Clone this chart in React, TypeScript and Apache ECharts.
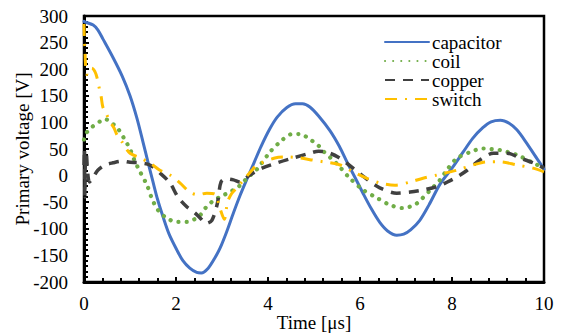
import React, { useEffect, useRef } from "react";
import * as echarts from "echarts";

const seriesNames = ["capacitor", "coil", "copper", "switch"];
const xTicks = [0, 2, 4, 6, 8, 10];
const yTicks = [-200, -150, -100, -50, 0, 50, 100, 150, 200, 250, 300];

const capacitorData: [number, number][] = [
  [0, 290], [0.05, 288], [0.2, 283], [0.3, 274], [0.41, 257], [0.63, 222], [0.83, 187],
  [1.0, 150], [1.15, 108], [1.28, 64], [1.4, 22], [1.5, -12], [1.6, -45], [1.72, -78],
  [1.85, -110], [2.02, -140], [2.15, -160], [2.3, -174], [2.45, -182], [2.55, -183],
  [2.7, -174], [2.85, -154], [2.96, -136], [3.1, -106], [3.25, -70], [3.39, -38],
  [3.55, -5], [3.7, 25], [3.85, 55], [4.04, 88], [4.2, 110], [4.41, 128], [4.6, 135],
  [4.75, 135], [4.91, 129], [5.1, 112], [5.35, 84], [5.55, 55], [5.72, 25], [5.9, -5],
  [6.07, -34], [6.25, -63], [6.43, -88], [6.6, -104], [6.8, -112], [6.95, -110],
  [7.1, -102], [7.3, -84], [7.5, -55], [7.74, -16], [8.0, 14], [8.24, 44], [8.45, 70],
  [8.67, 90], [8.85, 101], [9.05, 104], [9.25, 98], [9.41, 86], [9.6, 64], [9.8, 38],
  [9.91, 24], [10, 12],
];

const coilData: [number, number][] = [
  [0, 68], [0.05, 80], [0.17, 91], [0.35, 102], [0.46, 106], [0.6, 99], [0.74, 88],
  [0.89, 67], [1.0, 50], [1.1, 28], [1.22, 7], [1.37, -18], [1.48, -44], [1.61, -65],
  [1.8, -80], [2.02, -87], [2.24, -87], [2.4, -82], [2.52, -75], [2.65, -60], [2.8, -48],
  [3.0, -38], [3.17, -31], [3.4, -18], [3.54, -5], [3.76, 12], [4.04, 44], [4.26, 63],
  [4.52, 78], [4.7, 78], [4.91, 68], [5.09, 57], [5.2, 46], [5.5, 22], [5.78, -5],
  [6.07, -27], [6.37, -42], [6.65, -55], [6.93, -61], [7.1, -58], [7.24, -52],
  [7.52, -28], [7.74, -8], [7.9, 12], [8.1, 32], [8.39, 44], [8.67, 51], [8.85, 50],
  [9.04, 48], [9.41, 39], [9.76, 24], [10, 14],
];

const copperData: [number, number][] = [
  [0, 20], [0.01, 50], [0.02, -40], [0.03, 30], [0.05, 40], [0.08, 5], [0.12, -12],
  [0.2, -3], [0.3, 10], [0.46, 20], [0.63, 24], [0.83, 27], [1.0, 25], [1.22, 24],
  [1.43, 20], [1.65, 5], [1.87, -14], [2.04, -40], [2.24, -59], [2.41, -70], [2.55, -82],
  [2.65, -90], [2.78, -84], [2.9, -52], [2.98, -12], [3.1, -6], [3.25, -8], [3.39, -12],
  [3.6, 1], [3.87, 14], [4.2, 24], [4.54, 33], [4.91, 42], [5.1, 46], [5.28, 44],
  [5.52, 35], [5.85, 14], [6.17, -8], [6.43, -23], [6.8, -33], [7.09, -31], [7.37, -27],
  [7.67, -21], [7.9, -12], [8.1, -3], [8.33, 10], [8.6, 29], [8.9, 42], [9.2, 42],
  [9.48, 33], [9.76, 24], [10, 14],
];

const switchData: [number, number][] = [
  [0, 285], [0.01, 250], [0.02, 240], [0.03, 213], [0.06, 190], [0.1, 200], [0.17, 202],
  [0.24, 195], [0.28, 185], [0.33, 165], [0.37, 150], [0.41, 129], [0.48, 118],
  [0.54, 105], [0.65, 90], [0.72, 76], [0.83, 63], [0.89, 54], [1.0, 42], [1.22, 33],
  [1.43, 24], [1.65, 10], [1.87, 1], [2.09, -14], [2.3, -31], [2.48, -36], [2.67, -33],
  [2.85, -35], [2.95, -60], [3.05, -82], [3.12, -50], [3.2, -35], [3.3, -25],
  [3.43, -12], [3.65, 10], [3.76, 20], [4.15, 33], [4.41, 35], [4.7, 33], [4.98, 29],
  [5.2, 26], [5.57, 20], [5.85, 7], [6.15, -5], [6.43, -14], [6.76, -18], [7.09, -12],
  [7.37, -5], [7.67, 1], [8.1, 10], [8.46, 20], [8.76, 26], [9.04, 26], [9.41, 20],
  [9.76, 14], [10, 7],
];

const FONT = "Liberation Serif";

export default function App() {
  const ref = useRef<HTMLDivElement>(null);
  useEffect(() => {
    document.body.style.margin = "0";
    const chart = echarts.init(ref.current!, null, { renderer: "svg" });
    const lineSeries = (
      name: string,
      data: [number, number][],
      color: string,
      width: number,
      type: any,
      cap: any
    ) => ({
      name,
      type: "line",
      data,
      symbol: "none",
      showSymbol: false,
      smooth: 0.3,
      color,
      lineStyle: { color, width, type, cap, join: "round" },
    });
    chart.setOption({
      animation: false,
      textStyle: { fontFamily: FONT },
      grid: {
        left: 84,
        right: 17,
        top: 16,
        bottom: 54,
        containLabel: false,
        outerBoundsMode: "none",
        show: true,
        borderColor: "#000",
        borderWidth: 2.5,
      },
      legend: {
        orient: "vertical",
        left: 384,
        top: 32.5,
        padding: 0,
        itemWidth: 44,
        itemHeight: 14,
        itemGap: 0,
        itemStyle: { opacity: 0 },
        data: seriesNames,
        textStyle: {
          fontFamily: FONT,
          fontSize: 19,
          lineHeight: 18.7,
          color: "#000",
          padding: [0, 0, 0, -2],
        },
      },
      xAxis: {
        type: "value",
        min: xTicks[0],
        max: xTicks[xTicks.length - 1],
        interval: 2,
        name: "Time [μs]",
        nameLocation: "middle",
        nameGap: 31,
        nameMoveOverlap: false,
        nameTextStyle: { fontFamily: FONT, fontSize: 19, color: "#000" },
        axisLine: { show: true, onZero: false, lineStyle: { color: "#000", width: 3 } },
        axisTick: { show: true, inside: true, length: 5, lineStyle: { color: "#000", width: 2 } },
        minorTick: { show: true, splitNumber: 5, length: 4, lineStyle: { color: "#000", width: 2 } },
        splitLine: { show: false },
        axisLabel: { fontFamily: FONT, fontSize: 19, color: "#000", margin: 12 },
      },
      yAxis: {
        type: "value",
        min: yTicks[0],
        max: yTicks[yTicks.length - 1],
        interval: 50,
        name: "Primary voltage [V]",
        nameLocation: "middle",
        nameGap: 52,
        nameMoveOverlap: false,
        nameTextStyle: { fontFamily: FONT, fontSize: 19, color: "#000" },
        axisLine: { show: true, onZero: false, lineStyle: { color: "#000", width: 3 } },
        axisTick: { show: true, inside: true, length: 5, lineStyle: { color: "#000", width: 2 } },
        minorTick: { show: true, splitNumber: 5, length: 4, lineStyle: { color: "#000", width: 2 } },
        splitLine: { show: false },
        axisLabel: { fontFamily: FONT, fontSize: 19, color: "#000", margin: 16 },
      },
      series: [
        lineSeries(seriesNames[0], capacitorData, "#4472C4", 3, "solid", "round"),
        lineSeries(seriesNames[1], coilData, "#70AD47", 4.2, [0.1, 8], "round"),
        lineSeries(seriesNames[2], copperData, "#404040", 3.5, [10, 8], "butt"),
        lineSeries(seriesNames[3], switchData, "#FFC000", 3, [12, 8, 2, 8], "butt"),
      ],
    });
    return () => chart.dispose();
  }, []);
  return <div ref={ref} style={{ width: 561, height: 336 }} />;
}
